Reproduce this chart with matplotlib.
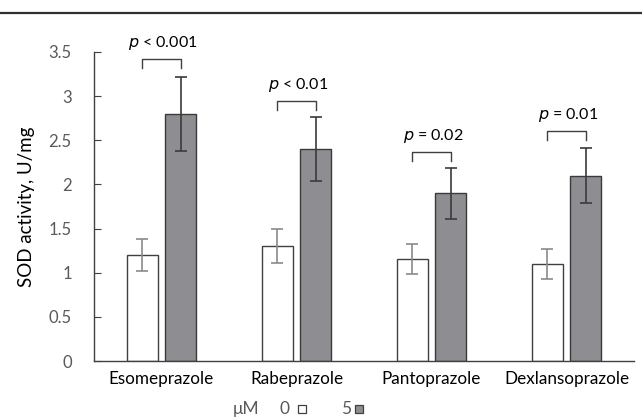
import matplotlib.pyplot as plt
import numpy as np

# data
drugs = ['Esomeprazole', 'Rabeprazole', 'Pantoprazole', 'Dexlansoprazole']
sod_0 = [1.20, 1.30, 1.16, 1.10]
err_0 = [0.18, 0.19, 0.17, 0.17]
sod_5 = [2.80, 2.40, 1.90, 2.10]
err_5 = [0.42, 0.36, 0.29, 0.31]
p_labels = ['< 0.001', '< 0.01', '= 0.02', '= 0.01']
bracket_top = [3.42, 2.94, 2.37, 2.60]

plt.rcParams['font.family'] = ['Lato', 'DejaVu Sans']

fig = plt.figure(figsize=(6.42, 4.2), dpi=100)
ax = fig.add_axes([94 / 642, 1 - 361 / 420, 540 / 642, 309 / 420])

x = np.arange(len(drugs)) + 0.5
w = 0.23
off = 0.144

ax.bar(x - off, sod_0, w, color='white', edgecolor='#404040', linewidth=1.0, zorder=2)
ax.bar(x + off, sod_5, w, color='#8e8e92', edgecolor='#3a3a3a', linewidth=1.0, zorder=2)
ax.errorbar(x - off, sod_0, yerr=err_0, fmt='none', ecolor='#8a8a8a',
            elinewidth=1.2, capsize=4, capthick=1.2, zorder=3)
ax.errorbar(x + off, sod_5, yerr=err_5, fmt='none', ecolor='#3a3a3a',
            elinewidth=1.2, capsize=4, capthick=1.2, zorder=3)

# significance brackets
for xi, top, lab in zip(x, bracket_top, p_labels):
    x1, x2 = xi - off, xi + off
    ax.plot([x1, x1, x2, x2], [top - 0.1, top, top, top - 0.1],
            color='#404040', lw=1.0, zorder=3)
    ax.text(xi + 0.01, top + 0.08, r'$\it{p}$ ' + lab, ha='center', va='bottom',
            fontsize=11.5, color='black')

ax.set_xlim(0, 4)
ax.set_ylim(0, 3.5)
ax.set_yticks(np.arange(0, 3.51, 0.5))
ax.set_yticklabels(['0', '0.5', '1', '1.5', '2', '2.5', '3', '3.5'])
ax.set_xticks(x)
ax.set_xticklabels(drugs, fontsize=12.3, color='black')
ax.tick_params(axis='x', length=0, pad=7)
ax.tick_params(axis='y', direction='in', length=5, color='#404040',
               labelsize=12, labelcolor='#595959', pad=16)
for s in ['top', 'right']:
    ax.spines[s].set_visible(False)
for s in ['left', 'bottom']:
    ax.spines[s].set_color('#404040')
    ax.spines[s].set_linewidth(1.0)
ax.set_ylabel('SOD activity, U/mg', fontsize=13.5, labelpad=10)

# legend as text + squares
fig.text(233 / 642, 1 - 409 / 420, 'μM', fontsize=12.5, color='#595959', va='center')
fig.text(280 / 642, 1 - 409 / 420, '0', fontsize=12.5, color='#595959', va='center')
fig.text(341 / 642, 1 - 409 / 420, '5', fontsize=12.5, color='#595959', va='center')
fig.patches.append(plt.Rectangle((298 / 642, 1 - 413 / 420), 8 / 642, 8 / 420,
                                 transform=fig.transFigure, facecolor='white',
                                 edgecolor='#404040', lw=0.9))
fig.patches.append(plt.Rectangle((355 / 642, 1 - 413 / 420), 8 / 642, 8 / 420,
                                 transform=fig.transFigure, facecolor='#8e8e92',
                                 edgecolor='#404040', lw=0.9))

# top rule
fig.add_artist(plt.Line2D([0, 1], [1 - 13 / 420, 1 - 13 / 420],
                          transform=fig.transFigure, color='#303030', lw=1.6))

fig.savefig('out.png', dpi=100)
